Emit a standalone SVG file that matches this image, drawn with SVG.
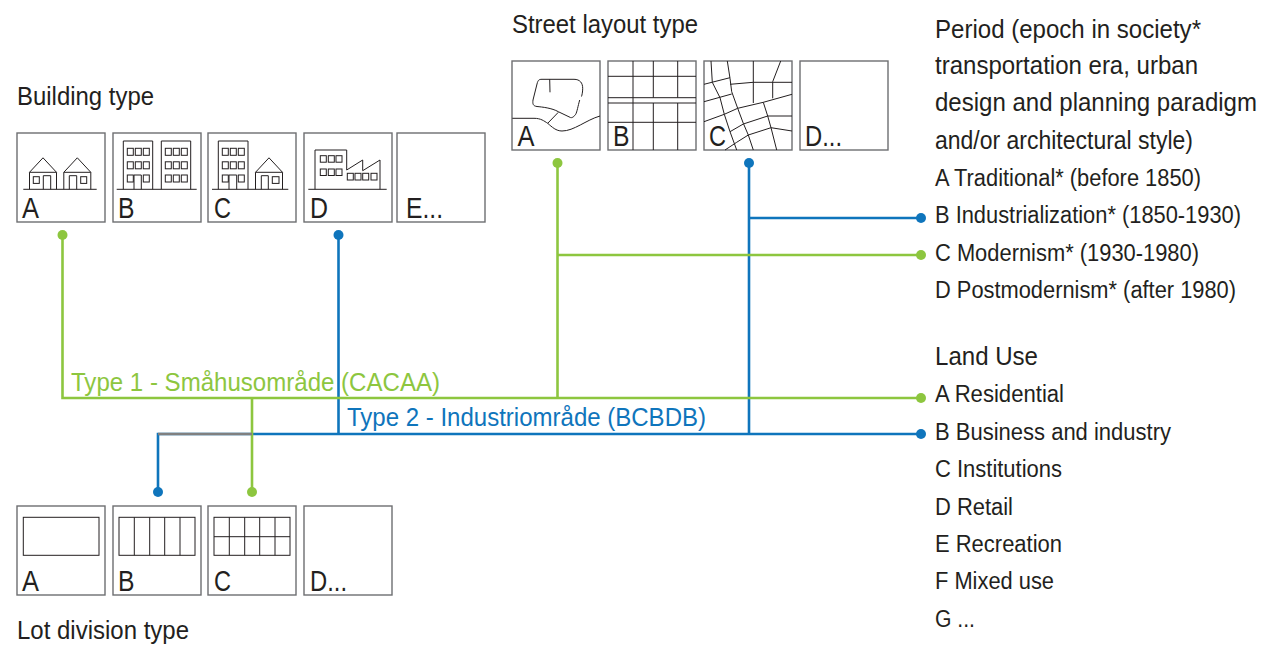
<svg xmlns="http://www.w3.org/2000/svg" width="1270" height="645" viewBox="0 0 1270 645">
<style>
text{font-family:"Liberation Sans",Arial,sans-serif;fill:#231f20}
.h{font-size:25px}
.l{font-size:23px}
.k{font-size:29px}
.box{fill:#fff;stroke:#6d6e71;stroke-width:1.400}
.ic{fill:none;stroke:#231f20;stroke-width:1}
.g{stroke:#8dc63f;stroke-width:2.600;fill:none}
.b{stroke:#0f75bc;stroke-width:2.600;fill:none}
.gd{fill:#8dc63f}
.bd{fill:#0f75bc}
</style>
<defs>
<path id="house" d="M-13.500 14.500L0 0L13.500 14.500M-13.500 14.500H13.500M-13.500 14.500V31.500M13.500 14.500V31.500"/>
<g id="win3">
<rect x="0" y="0" width="6" height="7"/><rect x="8" y="0" width="6" height="7"/><rect x="16" y="0" width="6" height="7"/>
<rect x="0" y="13.500" width="6" height="7"/><rect x="8" y="13.500" width="6" height="7"/><rect x="16" y="13.500" width="6" height="7"/>
</g>
</defs>
<g id="connectors">
<path class="b" d="M158 492V434H921"/>
<path class="b" d="M338.500 235V434"/>
<path class="b" d="M749 163V434"/>
<path class="b" d="M749 218H921"/>
<path class="g" d="M62.500 235V398H921"/>
<path class="g" d="M557.500 163V398"/>
<path class="g" d="M557.500 255H921"/>
<path class="g" d="M252 398V492"/>
<path d="M158 434H252" fill="none" stroke="#808080" stroke-width="2.600"/>
<circle class="gd" cx="62.500" cy="235" r="5"/><circle class="bd" cx="338.500" cy="235" r="5"/>
<circle class="gd" cx="557.500" cy="163" r="5"/><circle class="bd" cx="749" cy="163" r="5"/>
<circle class="bd" cx="921" cy="218" r="5"/><circle class="gd" cx="921" cy="255" r="5"/>
<circle class="gd" cx="921" cy="398" r="5"/><circle class="bd" cx="921" cy="434" r="5"/>
<circle class="bd" cx="158" cy="492" r="5"/><circle class="gd" cx="252" cy="492" r="5"/>
</g>
<g id="building-type">
<text class="h" x="17" y="105" textLength="137" lengthAdjust="spacingAndGlyphs">Building type</text>
<g id="building-a"><rect class="box" x="17" y="133" width="88" height="89"/>
<g class="ic"><path d="M23.300 189.300H96.700"/><use href="#house" x="43" y="157.800"/><use href="#house" x="77.300" y="157.800"/>
<rect x="33.300" y="176.700" width="6" height="6.700"/><path d="M43.300 189.300V175.700H50.700V189.300"/><rect x="80.700" y="176.700" width="6" height="6.700"/><path d="M69.300 189.300V175.700H76.700V189.300"/></g>
<text class="k" x="22" y="217.500" textLength="17" lengthAdjust="spacingAndGlyphs">A</text></g>
<g id="building-b"><rect class="box" x="113" y="133" width="88" height="89"/>
<g class="ic"><path d="M116.700 189.300H196.700M123.300 189.300V141H152.700V189.300M161.300 189.300V141H190.700V189.300M134 189.300V175H141.300V189.300"/>
<use href="#win3" x="127.300" y="148.300"/><rect x="127.300" y="175" width="6" height="7"/><rect x="143.300" y="175" width="6" height="7"/>
<use href="#win3" x="165.300" y="148.300"/><rect x="165.300" y="175" width="6" height="7"/><rect x="173.300" y="175" width="6" height="7"/><rect x="181.300" y="175" width="6" height="7"/></g>
<text class="k" x="118" y="217.500" textLength="16.500" lengthAdjust="spacingAndGlyphs">B</text></g>
<g id="building-c"><rect class="box" x="208" y="133" width="88" height="89"/>
<g class="ic"><path d="M212 189.300H288.300M218.300 189.300V141H248V189.300M229 189.300V175H236.700V189.300"/>
<use href="#win3" x="222.300" y="148.300"/><rect x="222.300" y="175" width="6" height="7"/><rect x="238.300" y="175" width="6" height="7"/>
<use href="#house" x="269" y="157.800"/><path d="M261.300 189.300V175.700H268.300V189.300"/><rect x="272.300" y="176.700" width="6.700" height="6.700"/></g>
<text class="k" x="214" y="217.500" textLength="17" lengthAdjust="spacingAndGlyphs">C</text></g>
<g id="building-d"><rect class="box" x="304" y="133" width="88" height="89"/>
<g class="ic"><path d="M308.300 189.300H386.700M315 189.300V150H346.700V170L362.700 160V170.700L380 160V189.300"/>
<rect x="320.300" y="155.700" width="6" height="6.500"/><rect x="328.300" y="155.700" width="6" height="6.500"/><rect x="336" y="155.700" width="6" height="6.500"/>
<rect x="320.300" y="169" width="6" height="6.500"/><rect x="328.300" y="169" width="6" height="6.500"/><rect x="336" y="169" width="6" height="6.500"/>
<rect x="347.300" y="173.300" width="6" height="6.700"/><rect x="355" y="173.300" width="6" height="6.700"/><rect x="362.700" y="173.300" width="6" height="6.700"/><rect x="371" y="173.300" width="6" height="6.700"/></g>
<text class="k" x="310" y="217.500" textLength="18" lengthAdjust="spacingAndGlyphs">D</text></g>
<g id="building-e"><rect class="box" x="397" y="133" width="88" height="89"/><text class="k" x="406" y="217.500" textLength="37" lengthAdjust="spacingAndGlyphs">E...</text></g>
</g>
<g id="street-layout-type">
<text class="h" x="512" y="33" textLength="186" lengthAdjust="spacingAndGlyphs">Street layout type</text>
<g id="street-a"><rect class="box" x="512" y="61" width="88" height="89"/>
<path class="ic" d="M579.700 100C578 106 577 112 575.700 114.300C573 118 571 118 570 117.300L558.300 111.700C552 108 542 107 537 106.500C533 106 532.500 104 533 100L537 84C538 80 539 79.300 542 79.300H574C580 79.300 582.700 83 582.700 88.300C582.700 92 582 95 581.500 96.500M549.700 79.300L550 92.300M558.300 112.300L547.700 123.300M512.300 118.300H534C541 118.300 544 121 547.700 123.300C552 127 556 131 562 131C574 131 586 120 600 116"/>
<text class="k" x="517.500" y="145.500" textLength="17" lengthAdjust="spacingAndGlyphs">A</text></g>
<g id="street-b"><rect class="box" x="608" y="61" width="88" height="89"/>
<path class="ic" d="M633 61V150M653.300 61V97.700M653.300 103V150M677.700 61V97.700M677.700 103V150M608 76.300H696M608 97.700H696M608 103H696M608 122.300H696"/>
<text class="k" x="613" y="145.500" textLength="16.500" lengthAdjust="spacingAndGlyphs">B</text></g>
<g id="street-c"><rect class="box" x="704" y="61" width="88" height="89"/>
<path class="ic" d="M711 61L712.300 82.300L720 97.700L724.300 114.300L730 131.700L736.700 150M727.300 61L730 78.300L731.700 91.700L737.700 108.300L743.300 123.300L748.300 135L753.300 150M704 84.300L730 77.700M730 84.300L753.300 82.300H792M753.300 61V103M780.700 61L772.700 81.700V98.300M704 101.700L731.700 94M704 121.700L724.300 114.300L737.700 108.300L763.300 102.300L792 94.300M763.300 102.300L767.700 116L771 127.700L776.700 150M767.700 116H792M730 131.700L743.300 124L767.700 116M771 127.700L792 131M725 150L736.700 142.300L748.300 135L771 127.700"/>
<text class="k" x="709" y="145.500" textLength="17" lengthAdjust="spacingAndGlyphs">C</text></g>
<g id="street-d"><rect class="box" x="800" y="61" width="88" height="89"/><text class="k" x="805" y="145.500" textLength="37" lengthAdjust="spacingAndGlyphs">D...</text></g>
</g>
<g id="lot-division-type">
<g id="lot-a"><rect class="box" x="17" y="506" width="88" height="89"/><rect class="ic" x="23.300" y="517.300" width="75.700" height="38"/><text class="k" x="22" y="590.500" textLength="17" lengthAdjust="spacingAndGlyphs">A</text></g>
<g id="lot-b"><rect class="box" x="113" y="506" width="88" height="89"/><rect class="ic" x="119" y="517.300" width="76" height="38"/><path class="ic" d="M134.300 517.300V555.300M149.700 517.300V555.300M164.700 517.300V555.300M180 517.300V555.300"/><text class="k" x="118" y="590.500" textLength="16.500" lengthAdjust="spacingAndGlyphs">B</text></g>
<g id="lot-c"><rect class="box" x="208" y="506" width="88" height="89"/><rect class="ic" x="214" y="517.300" width="76" height="38"/><path class="ic" d="M229.300 517.300V555.300M244.700 517.300V555.300M259.700 517.300V555.300M275 517.300V555.300M214 536.700H290"/><text class="k" x="214" y="590.500" textLength="17" lengthAdjust="spacingAndGlyphs">C</text></g>
<g id="lot-d"><rect class="box" x="304" y="506" width="88" height="89"/><text class="k" x="310" y="590.500" textLength="37" lengthAdjust="spacingAndGlyphs">D...</text></g>
<text class="h" x="17" y="639" textLength="172" lengthAdjust="spacingAndGlyphs">Lot division type</text>
</g>
<g id="period-labels">
<text class="h" x="935" y="38" textLength="266" lengthAdjust="spacingAndGlyphs">Period (epoch in society*</text>
<text class="h" x="935" y="74" textLength="263" lengthAdjust="spacingAndGlyphs">transportation era, urban</text>
<text class="h" x="935" y="111" textLength="322" lengthAdjust="spacingAndGlyphs">design and planning paradigm</text>
<text class="h" x="935" y="149" textLength="258" lengthAdjust="spacingAndGlyphs">and/or architectural style)</text>
<text class="l" x="935" y="186" textLength="266" lengthAdjust="spacingAndGlyphs">A Traditional* (before 1850)</text>
<text class="l" x="935" y="223" textLength="306" lengthAdjust="spacingAndGlyphs">B Industrialization* (1850-1930)</text>
<text class="l" x="935" y="261" textLength="264" lengthAdjust="spacingAndGlyphs">C Modernism* (1930-1980)</text>
<text class="l" x="935" y="298" textLength="301" lengthAdjust="spacingAndGlyphs">D Postmodernism* (after 1980)</text>
</g>
<g id="land-use-labels">
<text class="h" x="935" y="365" textLength="103" lengthAdjust="spacingAndGlyphs">Land Use</text>
<text class="l" x="935" y="402" textLength="129" lengthAdjust="spacingAndGlyphs">A Residential</text>
<text class="l" x="935" y="440" textLength="236" lengthAdjust="spacingAndGlyphs">B Business and industry</text>
<text class="l" x="935" y="477" textLength="127" lengthAdjust="spacingAndGlyphs">C Institutions</text>
<text class="l" x="935" y="515" textLength="78" lengthAdjust="spacingAndGlyphs">D Retail</text>
<text class="l" x="935" y="552" textLength="127" lengthAdjust="spacingAndGlyphs">E Recreation</text>
<text class="l" x="935" y="589" textLength="119" lengthAdjust="spacingAndGlyphs">F Mixed use</text>
<text class="l" x="935" y="627" textLength="40" lengthAdjust="spacingAndGlyphs">G ...</text>
</g>
<g id="type-labels">
<text class="h" style="fill:#8dc63f" x="71" y="391" textLength="369" lengthAdjust="spacingAndGlyphs">Type 1 - Småhusområde (CACAA)</text>
<text class="h" style="fill:#0f75bc" x="347" y="426" textLength="359" lengthAdjust="spacingAndGlyphs">Type 2 - Industriområde (BCBDB)</text>
</g>
</svg>
